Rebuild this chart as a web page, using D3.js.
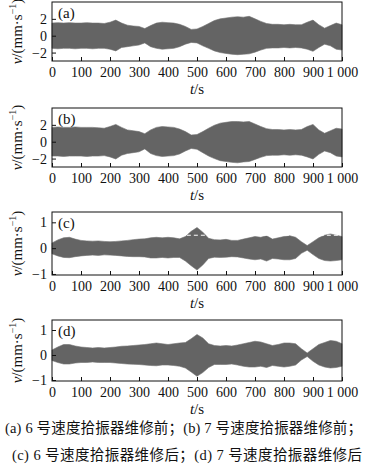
<!DOCTYPE html>
<html>
<head>
<meta charset="utf-8">
<script src="https://cdn.jsdelivr.net/npm/d3@7"></script>
<style>
  body { margin: 0; background: #fff; }
  svg text { font-family: "Liberation Serif", "Times New Roman", "DejaVu Serif", "Noto Sans CJK SC", serif; }
</style>
</head>
<body>
<svg id="chart" width="368" height="468"></svg>
<script>
// sample times of the envelopes (s)
const times = d3.range(0, 1001, 20);

// envelope of the velocity signal (mm/s), upper and lower
const aUpper = [1.5,1.55,1.5,1.55,1.5,1.5,1.55,1.5,1.5,1.45,1.6,1.85,1.5,1.25,1.15,1.1,0.85,1.2,1.5,1.6,1.55,1.5,1.35,1.1,0.75,0.8,1.1,1.45,1.8,2.0,2.1,2.2,2.25,2.2,2.3,2.0,1.7,1.45,1.35,1.35,1.3,1.35,1.3,1.3,1.6,1.85,1.3,0.9,1.2,1.5,1.3];
const aLower = [-1.5,-1.55,-1.5,-1.5,-1.55,-1.5,-1.5,-1.55,-1.5,-1.5,-1.6,-1.8,-1.4,-1.3,-1.2,-1.1,-0.85,-1.3,-1.5,-1.6,-1.55,-1.5,-1.3,-1.0,-0.8,-0.85,-1.2,-1.5,-1.8,-2.0,-2.1,-2.2,-2.25,-2.2,-2.15,-1.95,-1.7,-1.5,-1.45,-1.45,-1.4,-1.45,-1.4,-1.45,-1.6,-1.85,-1.4,-1.0,-1.2,-1.6,-1.7];

const bUpper = [1.7,1.75,1.7,1.7,1.75,1.7,1.7,1.7,1.65,1.6,1.8,2.05,1.7,1.4,1.3,1.2,0.95,1.4,1.7,1.8,1.75,1.7,1.5,1.2,0.8,0.85,1.2,1.6,1.95,2.2,2.3,2.4,2.4,2.35,2.4,2.1,1.8,1.55,1.45,1.45,1.4,1.45,1.4,1.45,1.8,2.05,1.4,1.0,1.3,1.6,1.5];
const bLower = [-1.7,-1.7,-1.75,-1.7,-1.7,-1.7,-1.75,-1.7,-1.7,-1.65,-1.8,-2.05,-1.6,-1.4,-1.3,-1.2,-0.85,-1.4,-1.65,-1.75,-1.7,-1.65,-1.45,-1.1,-0.8,-0.9,-1.3,-1.7,-2.0,-2.25,-2.35,-2.45,-2.5,-2.4,-2.35,-2.1,-1.85,-1.65,-1.6,-1.6,-1.55,-1.6,-1.55,-1.6,-1.8,-2.05,-1.5,-1.1,-1.3,-1.7,-1.8];

const cUpper = [0.2,0.32,0.4,0.42,0.35,0.3,0.28,0.27,0.28,0.26,0.25,0.26,0.28,0.3,0.33,0.35,0.36,0.4,0.42,0.4,0.42,0.4,0.36,0.45,0.65,0.8,0.62,0.38,0.33,0.32,0.34,0.3,0.3,0.35,0.4,0.45,0.42,0.48,0.35,0.4,0.45,0.48,0.42,0.25,0.1,0.25,0.4,0.5,0.55,0.5,0.45];
const cLower = [-0.22,-0.3,-0.36,-0.37,-0.33,-0.3,-0.28,-0.27,-0.28,-0.26,-0.27,-0.28,-0.3,-0.32,-0.33,-0.33,-0.34,-0.38,-0.38,-0.36,-0.38,-0.36,-0.36,-0.5,-0.68,-0.85,-0.65,-0.4,-0.35,-0.36,-0.35,-0.33,-0.34,-0.38,-0.42,-0.45,-0.42,-0.5,-0.4,-0.42,-0.45,-0.45,-0.4,-0.2,-0.08,-0.25,-0.4,-0.48,-0.5,-0.48,-0.45];

const dUpper = [0.2,0.32,0.42,0.42,0.36,0.32,0.3,0.28,0.3,0.28,0.3,0.32,0.35,0.36,0.38,0.4,0.42,0.45,0.48,0.45,0.42,0.45,0.48,0.5,0.65,0.82,0.68,0.45,0.38,0.36,0.38,0.36,0.4,0.45,0.5,0.55,0.52,0.45,0.38,0.42,0.48,0.48,0.45,0.25,0.08,0.25,0.42,0.5,0.58,0.55,0.45];
const dLower = [-0.22,-0.3,-0.36,-0.36,-0.32,-0.3,-0.3,-0.28,-0.3,-0.3,-0.3,-0.32,-0.34,-0.36,-0.37,-0.38,-0.4,-0.42,-0.43,-0.4,-0.4,-0.42,-0.45,-0.52,-0.68,-0.85,-0.7,-0.5,-0.38,-0.38,-0.38,-0.36,-0.4,-0.45,-0.48,-0.48,-0.45,-0.5,-0.42,-0.45,-0.48,-0.45,-0.4,-0.2,-0.06,-0.25,-0.4,-0.48,-0.52,-0.5,-0.45];

const xTicks = [0, 100, 200, 300, 400, 500, 600, 700, 800, 900, 1000];
const yTicksBefore = [-2, 0, 2];
const yTicksAfter = [-1, 0, 1];
const panelLabels = ["(a)", "(b)", "(c)", "(d)"];

// white dashed mark drawn over panel (c)
const dashLine = [{ v: 0.5, from: 465, to: 1005 }];

const captions = [
  "(a) 6 号速度拾振器维修前；(b) 7 号速度拾振器维修前；",
  "(c) 6 号速度拾振器维修后；(d) 7 号速度拾振器维修后"
];

const panels = [
  { label: panelLabels[0], up: aUpper, lo: aLower, top: 2,   h: 59, dom: [-3, 4],   ticks: yTicksBefore },
  { label: panelLabels[1], up: bUpper, lo: bLower, top: 108, h: 59, dom: [-3, 4],   ticks: yTicksBefore },
  { label: panelLabels[2], up: cUpper, lo: cLower, top: 212, h: 63, dom: [-1.04, 1.4], ticks: yTicksAfter, dash: dashLine },
  { label: panelLabels[3], up: dUpper, lo: dLower, top: 320, h: 61, dom: [-1.04, 1.4], ticks: yTicksAfter }
];

const left = 52, right = 342;
const serif = "'Liberation Serif', 'Times New Roman', 'DejaVu Serif', serif";
const svg = d3.select("#chart");

const x = d3.scaleLinear().domain([0, 1000]).range([left, right]);

const fmtX = d => d === 1000 ? "1 000" : String(d);
const fmtY = d => d < 0 ? "\u2212" + Math.abs(d) : String(d);

panels.forEach(p => {
  const y = d3.scaleLinear().domain(p.dom).range([p.top + p.h, p.top]);
  const g = svg.append("g");

  const data = times.map((t, i) => ({ t: t, hi: p.up[i], lo: p.lo[i] }));

  const area = d3.area()
    .x(d => x(d.t))
    .y0(d => y(d.lo))
    .y1(d => y(d.hi));

  g.append("path")
    .datum(data)
    .attr("d", area)
    .attr("fill", "#646464")
    .attr("stroke", "#707070")
    .attr("stroke-width", 0.6);

  if (p.dash) {
    g.selectAll("line.dash")
      .data(p.dash)
      .enter().append("line")
      .attr("class", "dash")
      .attr("x1", d => x(d.from))
      .attr("x2", d => x(d.to))
      .attr("y1", d => y(d.v))
      .attr("y2", d => y(d.v))
      .attr("stroke", "#fff")
      .attr("stroke-width", 1)
      .attr("stroke-dasharray", "4,3");
  }

  const xAxis = d3.axisBottom(x)
    .tickValues(xTicks)
    .tickFormat(fmtX)
    .tickSize(-4)
    .tickPadding(6);

  const yAxis = d3.axisLeft(y)
    .tickValues(p.ticks)
    .tickFormat(fmtY)
    .tickSize(-4)
    .tickPadding(5);

  const gx = g.append("g")
    .attr("transform", "translate(0," + (p.top + p.h) + ")")
    .call(xAxis);
  const gy = g.append("g")
    .attr("transform", "translate(" + left + ",0)")
    .call(yAxis);

  [gx, gy].forEach(a => {
    a.attr("font-family", serif);
    a.select(".domain").remove();
    a.selectAll("text").attr("font-size", 14).attr("fill", "#111")
      .style("font-family", serif);
    a.selectAll("line").attr("stroke", "#111");
  });

  g.append("rect")
    .attr("x", left)
    .attr("y", p.top)
    .attr("width", right - left)
    .attr("height", p.h)
    .attr("fill", "none")
    .attr("stroke", "#111")
    .attr("stroke-width", 1);

  g.append("text")
    .attr("x", left + 6)
    .attr("y", p.top + 16)
    .attr("font-size", 15)
    .attr("fill", "#111")
    .style("font-family", serif)
    .text(p.label);

  // y label
  const yl = g.append("text")
    .attr("transform", "translate(22," + (p.top + p.h / 2) + ") rotate(-90)")
    .attr("text-anchor", "middle")
    .attr("font-size", 15)
    .attr("fill", "#111")
    .style("font-family", serif);
  yl.append("tspan").attr("font-style", "italic").text("v");
  yl.append("tspan").text("/(mm\u00b7s");
  yl.append("tspan").attr("font-size", 10).attr("dy", -6).text("\u22121");
  yl.append("tspan").attr("dy", 6).text(")");

  // x label
  const xl = g.append("text")
    .attr("x", (left + right) / 2)
    .attr("y", p.top + p.h + 33)
    .attr("text-anchor", "middle")
    .attr("font-size", 15)
    .attr("fill", "#111")
    .style("font-family", serif);
  xl.append("tspan").attr("font-style", "italic").text("t");
  xl.append("tspan").text("/s");
});

svg.selectAll("text.caption")
  .data(captions)
  .enter().append("text")
  .attr("class", "caption")
  .attr("x", (d, i) => i === 0 ? 5 : 12)
  .attr("y", (d, i) => 433 + i * 27)
  .attr("font-size", 14.5)
  .attr("textLength", (d, i) => i === 0 ? 357 : 350)
  .attr("lengthAdjust", "spacing")
  .attr("fill", "#111")
  .style("font-family", "'Liberation Serif', 'Times New Roman', 'Noto Sans CJK SC', serif")
  .text(d => d);
</script>
</body>
</html>
